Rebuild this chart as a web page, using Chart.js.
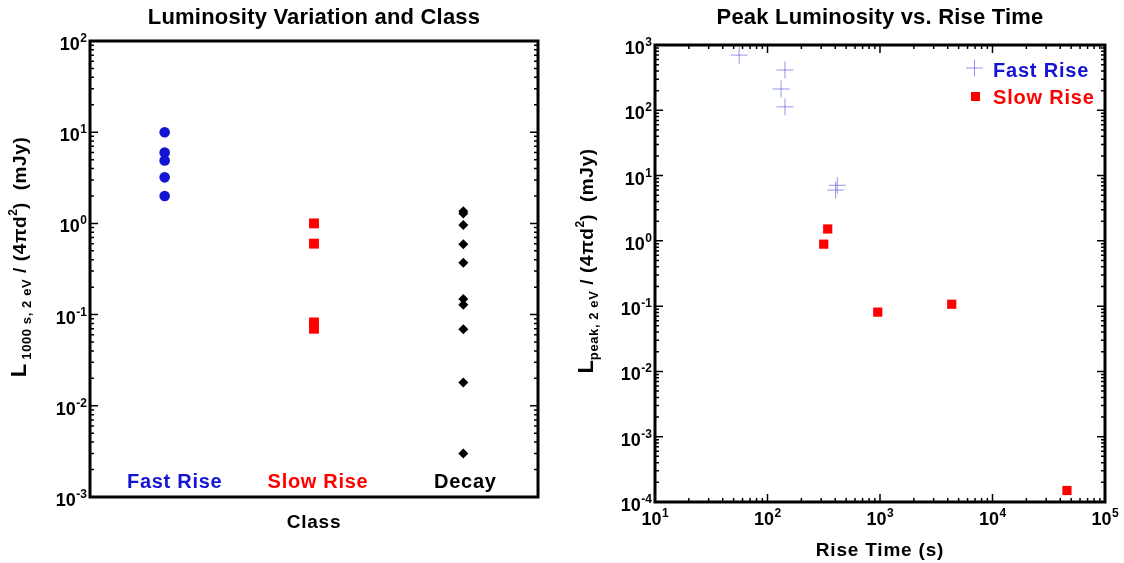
<!DOCTYPE html>
<html lang="en">
<head>
  <meta charset="UTF-8">
  <title>Luminosity vs class and rise time</title>
  <style>
    body { margin: 0; background: #fff; }
    .box { position: absolute; top: 0; width: 562px; height: 563px; }
  </style>
</head>
<body>
  <div class="box" style="left:0"><canvas id="classChart" width="562" height="563"></canvas></div>
  <div class="box" style="left:562px"><canvas id="riseChart" width="562" height="563"></canvas></div>

  <script src="https://cdn.jsdelivr.net/npm/chart.js"></script>
  <script>
    // left panel: L(1000 s) per class
    const classNames = ['Fast Rise', 'Slow Rise', 'Decay'];
    const fastRiseL = [10, 6.0, 4.9, 3.2, 2.0];
    const slowRiseL = [1.0, 0.6, 0.082, 0.07];
    const decayL = [1.36, 1.28, 0.96, 0.59, 0.37, 0.148, 0.128, 0.069, 0.018, 0.003];

    // right panel: peak luminosity vs rise time (s)
    const fastRiseTime = [56, 143, 132, 143, 417, 403];
    const fastRisePeak = [700, 414, 212, 113, 7.1, 6.0];
    const slowRiseTime = [343, 316, 955, 4340, 45900];
    const slowRisePeak = [1.52, 0.89, 0.081, 0.107, 0.00015];

    // tick label exponents (10^n)
    const leftYExp = [-3, -2, -1, 0, 1, 2];
    const rightXExp = [1, 2, 3, 4, 5];
    const rightYExp = [-4, -3, -2, -1, 0, 1, 2, 3];

    const FONT = '"Liberation Sans", Arial, Helvetica, sans-serif';
    const BLUE = '#1414d2';
    const RED = '#ff0000';
    const CROSS = 'rgba(80,80,230,0.6)';

    function setFont(ctx, size, spacing) {
      ctx.font = 'bold ' + size + 'px ' + FONT;
      ctx.letterSpacing = (spacing || 0) + 'px';
    }

    function pow10(ctx, exp, x, y, align) {
      setFont(ctx, 18, 0);
      const w1 = ctx.measureText('10').width;
      setFont(ctx, 12, 0);
      const w2 = ctx.measureText(String(exp)).width;
      const gap = 0.5;
      const w = w1 + gap + w2;
      const x0 = align === 'right' ? x - w : x - w / 2;
      ctx.textAlign = 'left';
      ctx.textBaseline = 'alphabetic';
      setFont(ctx, 18, 0);
      ctx.fillText('10', x0, y);
      setFont(ctx, 12, 0);
      ctx.fillText(String(exp), x0 + w1 + gap, y - 8);
    }

    // parts: [text, font size, baseline shift, letter spacing]
    function richText(ctx, parts, cx, cy) {
      ctx.save();
      ctx.translate(cx, cy);
      ctx.rotate(-Math.PI / 2);
      let total = 0;
      parts.forEach(p => { setFont(ctx, p[1], p[3]); total += ctx.measureText(p[0]).width; });
      let x = -total / 2;
      ctx.textAlign = 'left';
      ctx.textBaseline = 'alphabetic';
      parts.forEach(p => {
        setFont(ctx, p[1], p[3]);
        ctx.fillText(p[0], x, p[2]);
        x += ctx.measureText(p[0]).width;
      });
      ctx.restore();
    }

    function logTicks(ctx, scale, a, lo, hi, horizontal) {
      for (let d = lo; d <= hi; d++) {
        for (let m = 1; m <= 9; m++) {
          if (d === hi && m > 1) break;
          const p = scale.getPixelForValue(m * Math.pow(10, d));
          const len = m === 1 ? 8 : 4;
          ctx.beginPath();
          if (horizontal) {
            ctx.moveTo(p, a.bottom); ctx.lineTo(p, a.bottom - len);
            ctx.moveTo(p, a.top); ctx.lineTo(p, a.top + len);
          } else {
            ctx.moveTo(a.left, p); ctx.lineTo(a.left + len, p);
            ctx.moveTo(a.right, p); ctx.lineTo(a.right - len, p);
          }
          ctx.stroke();
        }
      }
    }

    const decor = {
      id: 'decor',
      afterDraw(chart, args, o) {
        const { ctx, chartArea: a } = chart;
        const xs = chart.scales.x, ys = chart.scales.y;
        const mid = (a.left + a.right) / 2;
        ctx.save();
        ctx.strokeStyle = '#000';
        ctx.fillStyle = '#000';
        ctx.lineWidth = 1.5;
        logTicks(ctx, ys, a, o.yExp[0], o.yExp[o.yExp.length - 1], false);
        if (o.xExp) logTicks(ctx, xs, a, o.xExp[0], o.xExp[o.xExp.length - 1], true);

        o.yExp.forEach(e => pow10(ctx, e, a.left - 3, ys.getPixelForValue(Math.pow(10, e)) + 9, 'right'));
        if (o.xExp) o.xExp.forEach(e => pow10(ctx, e, xs.getPixelForValue(Math.pow(10, e)), a.bottom + 23, 'center'));

        ctx.lineWidth = 3;
        ctx.strokeRect(a.left, a.top, a.right - a.left, a.bottom - a.top);

        ctx.textAlign = 'center';
        ctx.textBaseline = 'middle';
        setFont(ctx, 22, 0.2);
        ctx.fillText(o.title, mid, 18);
        setFont(ctx, 19, 0.8);
        ctx.fillText(o.xTitle, mid, o.xTitleY);
        richText(ctx, o.yTitle, o.yTitleX, o.yTitleY);

        if (o.extra) o.extra(chart);
        ctx.restore();
      }
    };

    const hidden = { display: false };

    // ---- left chart ----
    new Chart(document.getElementById('classChart'), {
      type: 'scatter',
      data: {
        datasets: [
          { label: classNames[0], data: fastRiseL.map(v => ({ x: 0, y: v })), pointStyle: 'circle', pointRadius: 5.3, backgroundColor: BLUE, borderWidth: 0 },
          { label: classNames[1], data: slowRiseL.map(v => ({ x: 1, y: v })), pointStyle: 'rect', pointRadius: 7, backgroundColor: RED, borderWidth: 0 },
          { label: classNames[2], data: decayL.map(v => ({ x: 2, y: v })), pointStyle: 'rectRot', pointRadius: 5, backgroundColor: '#000', borderWidth: 0 }
        ]
      },
      options: {
        responsive: false,
        animation: false,
        devicePixelRatio: 1,
        layout: { padding: { left: 90, right: 24, top: 41, bottom: 66 } },
        scales: {
          x: { type: 'linear', min: -0.5, max: 2.5, display: false },
          y: { type: 'logarithmic', min: 1e-3, max: 100, display: false }
        },
        plugins: {
          legend: hidden,
          tooltip: { enabled: false },
          decor: {
            title: 'Luminosity Variation and Class',
            xTitle: 'Class',
            xTitleY: 523,
            yExp: leftYExp,
            yTitle: [['L', 22, 0, 0], [' 1000 s, 2 eV', 13, 5, 0.6], [' / (4\u03C0d', 19, 0, 0.6], ['2', 12, -9, 0], [')  (mJy)', 19, 0, 0.6]],
            yTitleX: 26,
            yTitleY: 257,
            extra(chart) {
              const { ctx, chartArea: a } = chart;
              const colors = [BLUE, RED, '#000'];
              const shift = [10, 4, 2];
              setFont(ctx, 20, 0.7);
              ctx.textAlign = 'center';
              ctx.textBaseline = 'middle';
              classNames.forEach((n, i) => {
                ctx.fillStyle = colors[i];
                ctx.fillText(n, chart.scales.x.getPixelForValue(i) + shift[i], a.bottom - 15);
              });
            }
          }
        }
      },
      plugins: [decor]
    });

    // ---- right chart ----
    new Chart(document.getElementById('riseChart'), {
      type: 'scatter',
      data: {
        datasets: [
          { label: 'Fast Rise', data: fastRiseTime.map((t, i) => ({ x: t, y: fastRisePeak[i] })), pointStyle: 'cross', pointRadius: 8.5, borderColor: CROSS, borderWidth: 1 },
          { label: 'Slow Rise', data: slowRiseTime.map((t, i) => ({ x: t, y: slowRisePeak[i] })), pointStyle: 'rect', pointRadius: 6.5, backgroundColor: RED, borderWidth: 0 }
        ]
      },
      options: {
        responsive: false,
        animation: false,
        devicePixelRatio: 1,
        layout: { padding: { left: 93, right: 19, top: 45, bottom: 61 } },
        scales: {
          x: { type: 'logarithmic', min: 10, max: 1e5, display: false },
          y: { type: 'logarithmic', min: 1e-4, max: 1e3, display: false }
        },
        plugins: {
          legend: hidden,
          tooltip: { enabled: false },
          decor: {
            title: 'Peak Luminosity vs. Rise Time',
            xTitle: 'Rise Time (s)',
            xTitleY: 551,
            yExp: rightYExp,
            xExp: rightXExp,
            yTitle: [['L', 22, 0, 0], ['peak, 2 eV', 13, 5, 0.6], [' / (4\u03C0d', 19, 0, 0.6], ['2', 12, -9, 0], [')  (mJy)', 19, 0, 0.6]],
            yTitleX: 31,
            yTitleY: 261,
            extra(chart) {
              const { ctx } = chart;
              const ds = chart.data.datasets;
              const cols = [BLUE, RED];
              // legend: cross and square, then label
              ctx.strokeStyle = CROSS;
              ctx.lineWidth = 1;
              ctx.beginPath();
              ctx.moveTo(404, 68); ctx.lineTo(421, 68);
              ctx.moveTo(412.5, 59.5); ctx.lineTo(412.5, 76.5);
              ctx.stroke();
              ctx.fillStyle = RED;
              ctx.fillRect(409, 92, 9, 9);
              setFont(ctx, 20, 0.8);
              ctx.textAlign = 'left';
              ctx.textBaseline = 'middle';
              ds.forEach((d, i) => {
                ctx.fillStyle = cols[i];
                ctx.fillText(d.label, 431, 71 + i * 27);
              });
            }
          }
        }
      },
      plugins: [decor]
    });
  </script>
</body>
</html>
